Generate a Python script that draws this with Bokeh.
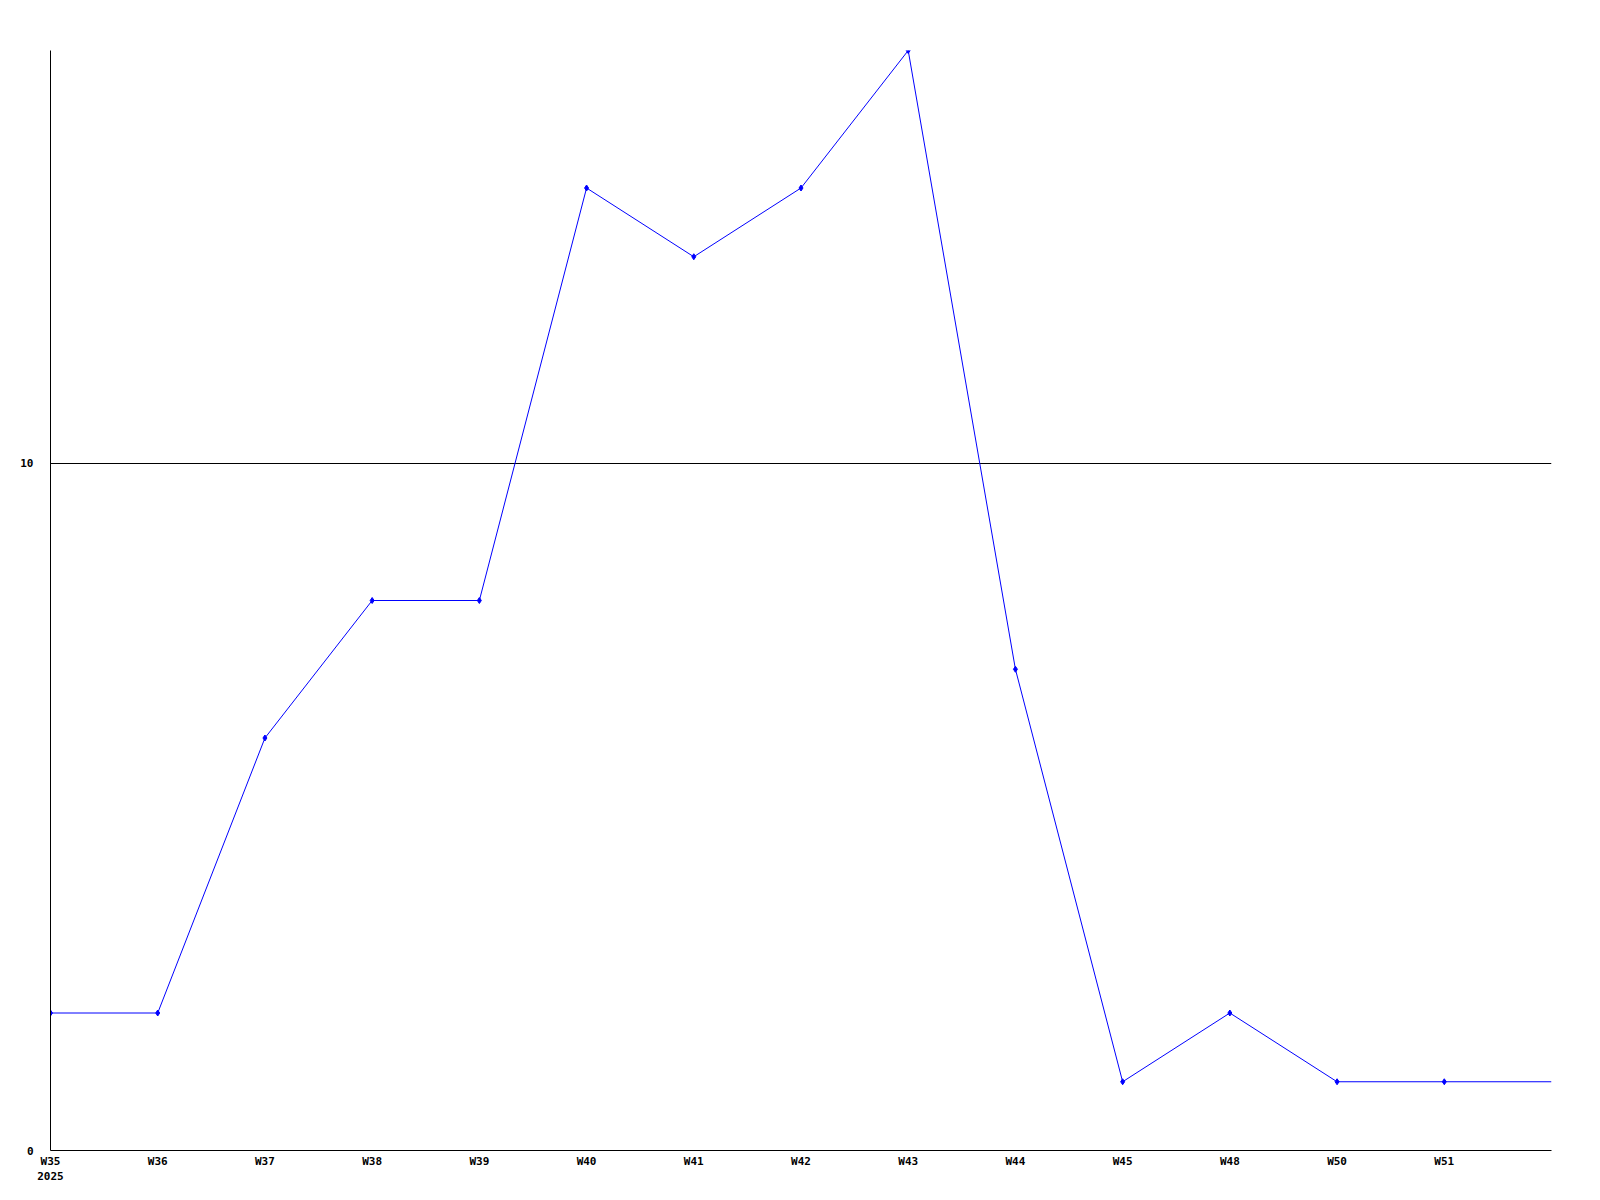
from bokeh.plotting import figure
from bokeh.models import FixedTicker, Range1d, ColumnDataSource
from bokeh.embed import file_html
from bokeh.resources import INLINE

weeks = ["W35", "W36", "W37", "W38", "W39", "W40", "W41", "W42", "W43", "W44", "W45", "W48", "W50", "W51", ""]
values = [2, 2, 6, 8, 8, 14, 13, 14, 16, 7, 1, 2, 1, 1, 1]
year_label = "2025"
y_ticks = [0, 10]

xs = list(range(len(weeks)))
src = ColumnDataSource(dict(x=xs, y=values))
marker_src = ColumnDataSource(dict(x=xs[:-1], y=values[:-1]))

p = figure(width=1600, height=1200, output_backend="svg", toolbar_location=None,
           x_range=Range1d(0, len(weeks) - 1), y_range=Range1d(0, 16),
           min_border_left=50, min_border_right=49, min_border_top=50, min_border_bottom=50)
p.outline_line_color = None
p.background_fill_color = "white"
p.border_fill_color = "white"

p.line("x", "y", source=src, line_color="#0000ff", line_width=1)
p.scatter("x", "y", source=marker_src, marker="diamond", size=6, fill_color="#0000ff", line_color="#0000ff")

font = "DejaVu Sans Mono"
for ax in (p.xaxis[0], p.yaxis[0]):
    ax.axis_line_color = "black"
    ax.axis_line_width = 1
    ax.major_tick_line_color = None
    ax.minor_tick_line_color = None
    ax.major_label_text_font = font
    ax.major_label_text_font_style = "bold"
    ax.major_label_text_font_size = "11px"
    ax.major_label_text_color = "black"

p.xaxis.ticker = FixedTicker(ticks=xs[:-1])
overrides = {i: w for i, w in enumerate(weeks) if w}
overrides[0] = weeks[0] + "\n" + year_label
p.xaxis.major_label_overrides = overrides
p.xaxis.major_label_standoff = -2

p.yaxis.ticker = FixedTicker(ticks=y_ticks)
p.yaxis.major_label_standoff = 11

p.xgrid.visible = False
p.ygrid.grid_line_color = "black"
p.ygrid.grid_line_alpha = 1.0
p.ygrid.grid_line_width = 1

open("out.html", "w").write(file_html(p, INLINE))
